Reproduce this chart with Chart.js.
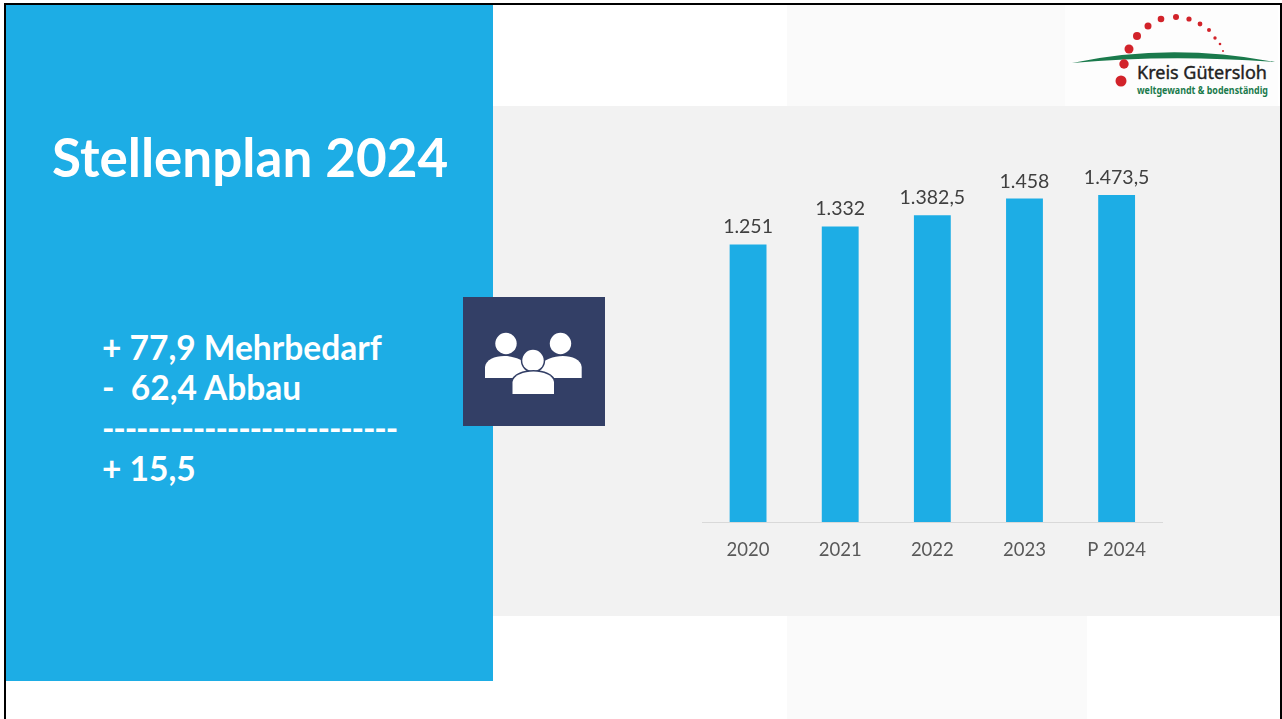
<!DOCTYPE html>
<html lang="de">
<head>
<meta charset="utf-8">
<title>Stellenplan 2024</title>
<script src="https://cdn.jsdelivr.net/npm/chart.js@4"></script>
<style>
  html, body { margin: 0; padding: 0; background: #fff; overflow: hidden; }
  body { position: relative; width: 1282px; height: 719px; font-family: Lato, sans-serif; }
  .abs { position: absolute; }
  .band { left: 787px; width: 300px; background: #fafafa; }
  .frame { left: 4px; top: 3px; width: 1274px; height: 716px; border: solid #000; border-width: 2px 2px 0 2px; }
  .line { left: 102px; color: #fff; font-weight: 700; font-size: 33.5px; line-height: 40px; white-space: pre; }
</style>
</head>
<body>
  <div class="abs band" style="top:5px;height:101px"></div>
  <div class="abs band" style="top:616px;height:103px"></div>
  <div class="abs" style="left:493px;top:106px;width:789px;height:510px;background:#f2f2f2"></div>
  <div class="abs" style="left:6px;top:5px;width:487px;height:676px;background:#1dade5"></div>
  <div class="abs" style="left:52px;top:126px;color:#fff;font-weight:700;font-size:53px;line-height:62px;white-space:nowrap">Stellenplan 2024</div>
  <div class="abs line" style="top:327px">+ 77,9 Mehrbedarf</div>
  <div class="abs line" style="top:367px">-  62,4 Abbau</div>
  <div class="abs line" style="top:408px;letter-spacing:-1.15px">--------------------------</div>
  <div class="abs line" style="top:448px">+ 15,5</div>

  <svg class="abs" style="left:463px;top:297px" width="142" height="129" viewBox="0 0 142 129">
    <rect width="142" height="129" fill="#333f66"/>
    <g fill="#fff">
      <circle cx="43" cy="46.5" r="10.7"/>
      <path d="M22 81 V70 C24 56 55 55 66 70 L60 81 Z"/>
      <circle cx="97.5" cy="46.5" r="10.7"/>
      <path d="M118.7 81 V70 C117 56 86 55 75 70 L81 81 Z"/>
    </g>
    <g fill="#fff" stroke="#333f66" stroke-width="3" paint-order="stroke">
      <circle cx="70" cy="63.5" r="10.7"/>
      <path d="M49.5 97 V85 C52 71 89 71 91 85 V97 Z"/>
    </g>
  </svg>

  <svg class="abs" style="left:1060px;top:0" width="222" height="110" viewBox="1060 0 222 110">
    <rect x="1065" y="5" width="213" height="101" fill="#fdfdfd"/>
    <path d="M1072 63 Q1170 42 1275 62 Q1170 54 1072 63 Z" fill="#1a7a4c"/>
    <g fill="#d2232a">
      <circle cx="1121" cy="81" r="5.5"/>
      <circle cx="1124" cy="64" r="4.7"/>
      <circle cx="1129" cy="49" r="4.5"/>
      <circle cx="1137" cy="36" r="4"/>
      <circle cx="1148" cy="26" r="3.5"/>
      <circle cx="1161" cy="19" r="3.3"/>
      <circle cx="1176" cy="17" r="3"/>
      <circle cx="1189" cy="19" r="2.6"/>
      <circle cx="1200" cy="24" r="2.4"/>
      <circle cx="1209" cy="30" r="2"/>
      <circle cx="1215" cy="38" r="1.7"/>
      <circle cx="1220" cy="44" r="1.3"/>
      <circle cx="1223" cy="51" r="1"/>
    </g>
    <text x="1137" y="79" font-family="Noto Sans" font-size="18.5" fill="#222" stroke="#222" stroke-width="0.4" textLength="130" lengthAdjust="spacingAndGlyphs">Kreis Gütersloh</text>
    <text x="1137" y="94" font-family="Noto Sans" font-weight="700" font-size="10" fill="#1a7a4c" textLength="131" lengthAdjust="spacingAndGlyphs">weltgewandt &amp; bodenständig</text>
  </svg>

  <canvas id="chart" class="abs" style="left:702px;top:157px" width="461" height="413"></canvas>
  <div class="abs frame"></div>

<script>
const years = ['2020', '2021', '2022', '2023', 'P 2024'];
const positions = [1251, 1332, 1382.5, 1458, 1473.5];
const positionLabels = ['1.251', '1.332', '1.382,5', '1.458', '1.473,5'];

// Chart.js has no built-in value labels, so draw them above each bar
const barLabels = {
  id: 'barLabels',
  afterDatasetsDraw(chart) {
    const ctx = chart.ctx;
    ctx.save();
    ctx.font = '19.5px Lato';
    ctx.fillStyle = '#404040';
    ctx.textAlign = 'center';
    ctx.textBaseline = 'alphabetic';
    chart.getDatasetMeta(0).data.forEach((bar, i) => {
      ctx.fillText(positionLabels[i], bar.x, bar.y - 11);
    });
    ctx.restore();
  }
};

new Chart(document.getElementById('chart').getContext('2d'), {
  type: 'bar',
  data: {
    labels: years,
    datasets: [{
      data: positions,
      backgroundColor: '#1dade5',
      barPercentage: 0.4,
      categoryPercentage: 1
    }]
  },
  options: {
    responsive: false,
    animation: false,
    layout: { padding: { top: 10, left: 0, right: 0, bottom: 0 } },
    plugins: { legend: { display: false }, tooltip: { enabled: false } },
    scales: {
      x: {
        grid: { display: false, drawTicks: false },
        border: { color: '#d9d9d9', width: 1 },
        ticks: { color: '#595959', font: { family: 'Lato', size: 18.5 }, padding: 17, maxRotation: 0 },
        afterFit(scale) { scale.height = 48; }
      },
      y: { display: false, min: 0, max: 1600 }
    }
  },
  plugins: [barLabels]
});
</script>
</body>
</html>
